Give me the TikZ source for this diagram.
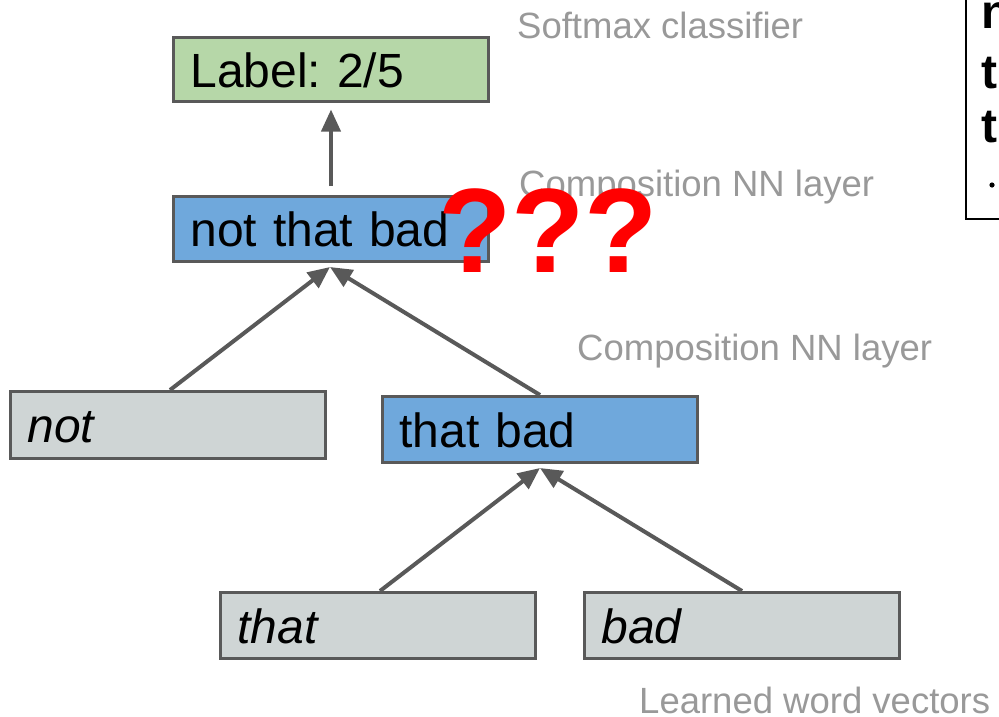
\documentclass[tikz,border=0pt]{standalone}
\usepackage{fontspec}
\setmainfont{Liberation Sans}
\usetikzlibrary{arrows.meta}
\frenchspacing

\definecolor{edgegray}{HTML}{595959}
\definecolor{leafgray}{RGB}{207,213,213}
\definecolor{phraseblue}{HTML}{6FA8DC}
\definecolor{labelgreen}{HTML}{B6D7A8}
\definecolor{notegray}{HTML}{999999}

\tikzset{
  vecbox/.style={draw=edgegray, line width=3pt, rectangle,
    minimum width=313pt, minimum height=65pt,
    text width=281pt, align=left, inner xsep=17pt, inner ysep=0pt,
    text height=35pt, text depth=0pt,
    font=\fontsize{48}{52}\selectfont},
  leafbox/.style={vecbox, fill=leafgray, font=\fontsize{48}{52}\selectfont\itshape},
  phrasebox/.style={vecbox, fill=phraseblue},
  outbox/.style={vecbox, fill=labelgreen},
  arr/.style={draw=edgegray, line width=4pt,
    -{Triangle[length=22pt,width=19pt]}},
  layernote/.style={anchor=base west, inner sep=0pt, text=notegray,
    font=\fontsize{36.5}{40}\selectfont},
  notetext/.style={anchor=base west, inner sep=0pt,
    font=\fontsize{48}{52}\selectfont\bfseries},
}

\begin{document}
\begin{tikzpicture}[x=1pt, y=-1pt]
\useasboundingbox (0,0) rectangle (999,716);

% note box in the upper right corner, running off the page
\draw[black, line width=2pt] (966,-10) -- (966,219) -- (1010,219);
\node[notetext] (na) at (981,28) {n};
\node[notetext] (nb) at (981,88) {t};
\node[notetext] (nc) at (981,142) {t};
\fill[black] (992,185) circle (2.6pt);

% tree nodes
\node[outbox, minimum height=64pt] (label) at (331,69.5) {Label: 2/5};
\node[phrasebox, minimum height=65pt] (ntb) at (331,229) {not that bad};
\node[leafbox, minimum height=67pt] (not) at (168,425) {not};
\node[phrasebox, minimum height=66pt] (tb) at (540,429.5) {that bad};
\node[leafbox, minimum height=66pt] (that) at (378,625.5) {that};
\node[leafbox, minimum height=66pt] (bad) at (742,625.5) {bad};

% layer annotations
\node[layernote] (softmax) at (517,38) {Softmax classifier};
\node[layernote] (comp1) at (519,196) {Composition NN layer};
\node[layernote] (comp2) at (577,360) {Composition NN layer};
\node[layernote] (wordvec) at (639,713) {Learned word vectors};

% composition edges
\draw[arr] ([yshift=9pt]ntb.north) -- ([yshift=-6.5pt]label.south);
\draw[arr] ([xshift=2pt]not.north) -- ([xshift=-1pt,yshift=-4pt]ntb.south);
\draw[arr] (tb.north) -- ([xshift=-1pt,yshift=-4pt]ntb.south);
\draw[arr] ([xshift=2pt]that.north) -- ([yshift=-4pt]tb.south);
\draw[arr] (bad.north) -- ([yshift=-4pt]tb.south);

% question marks over the top composition
\node[anchor=base west, inner sep=0pt, text=red,
  font=\fontsize{120}{130}\selectfont\bfseries] (qq) at (438,272) {???};
\end{tikzpicture}
\end{document}
